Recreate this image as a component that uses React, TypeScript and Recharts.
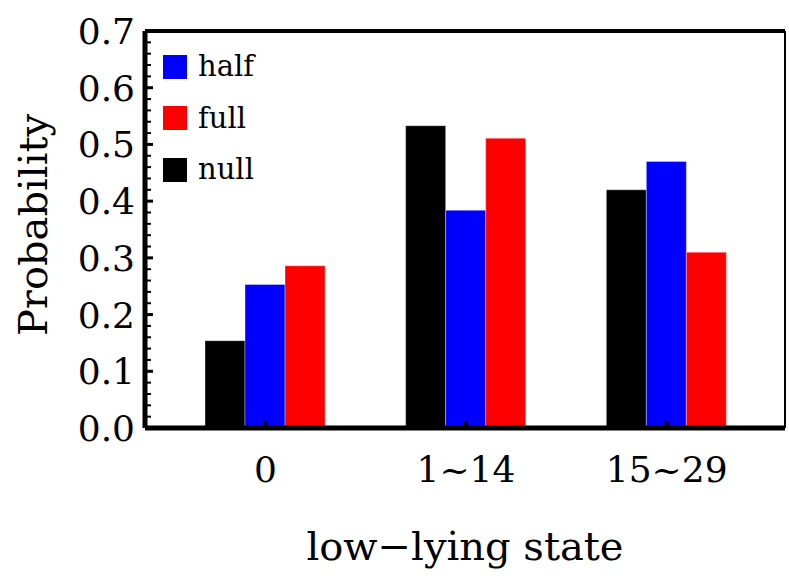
import { BarChart, Bar, XAxis, YAxis, ReferenceLine } from 'recharts';

const STATES = ['0', '1~14', '15~29'];
const NULL_VALUES = [0.154, 0.533, 0.42];
const HALF_VALUES = [0.253, 0.384, 0.47];
const FULL_VALUES = [0.286, 0.511, 0.31];

const Y_TICKS = [
  0, 0.02, 0.04, 0.06, 0.08, 0.1, 0.12, 0.14, 0.16, 0.18, 0.2, 0.22, 0.24, 0.26, 0.28, 0.3, 0.32,
  0.34, 0.36, 0.38, 0.4, 0.42, 0.44, 0.46, 0.48, 0.5, 0.52, 0.54, 0.56, 0.58, 0.6, 0.62, 0.64,
  0.66, 0.68, 0.7,
];

const LEGEND_ITEMS = [
  { name: 'half', color: '#0000ff' },
  { name: 'full', color: '#ff0000' },
  { name: 'null', color: '#000000' },
];

const data = STATES.map((state, i) => ({
  state,
  null: NULL_VALUES[i],
  half: HALF_VALUES[i],
  full: FULL_VALUES[i],
}));

const FONT = '"DejaVu Serif", serif';
const TICK_GAP = 10;

const isMajor = (v: number) => Math.abs(v * 10 - Math.round(v * 10)) < 1e-6;

function YTick({ x, y, payload }: any) {
  const major = isMajor(payload.value);
  const ax = x + TICK_GAP;
  return (
    <g>
      <line x1={ax} x2={ax + (major ? 8 : 6)} y1={y} y2={y} stroke="#000" strokeWidth={major ? 3 : 2} />
      {major && (
        <text x={x} y={y} dy="0.36em" textAnchor="end" fontSize={36} fontFamily={FONT} fill="#000">
          {payload.value.toFixed(1)}
        </text>
      )}
    </g>
  );
}

function XTick({ x, y, payload }: any) {
  return (
    <g>
      <line x1={x} x2={x} y1={y} y2={y - 7} stroke="#000" strokeWidth={4} />
      <text x={x} y={y + 54} textAnchor="middle" fontSize={36} fontFamily={FONT} fill="#000">
        {payload.value}
      </text>
    </g>
  );
}

function LegendBox() {
  return (
    <div style={{ position: 'absolute', left: 163, top: 41, fontFamily: FONT }}>
      {LEGEND_ITEMS.map((item) => (
        <div key={item.name} style={{ display: 'flex', alignItems: 'center', height: 51.5 }}>
          <span style={{ width: 24, height: 24, background: item.color, display: 'inline-block' }} />
          <span style={{ fontSize: 29, marginLeft: 11, lineHeight: 1 }}>{item.name}</span>
        </div>
      ))}
    </div>
  );
}

export default function App() {
  return (
    <div style={{ position: 'absolute', left: 0, top: 0, width: 789, height: 576, background: '#fff' }}>
      <BarChart
        width={789}
        height={576}
        data={data}
        margin={{ top: 31, right: 3, left: 0, bottom: 0 }}
        barSize={40}
        barGap={0}
      >
        <ReferenceLine y={0.7} stroke="#000" strokeWidth={4} />
        <Bar dataKey="null" fill="#000000" stroke="#ffffff" strokeOpacity={0.35} isAnimationActive={false} />
        <Bar dataKey="half" fill="#0000ff" stroke="#ffffff" strokeOpacity={0.35} isAnimationActive={false} />
        <Bar dataKey="full" fill="#ff0000" stroke="#ffffff" strokeOpacity={0.35} isAnimationActive={false} />
        <XAxis
          dataKey="state"
          height={148}
          padding={{ left: 20, right: 18 }}
          axisLine={{ stroke: '#000', strokeWidth: 5 }}
          tickLine={false}
          tickSize={0}
          tickMargin={0}
          interval={0}
          tick={<XTick />}
          label={{
            value: 'low\u2212lying state',
            position: 'insideBottom',
            offset: 16,
            fontSize: 40,
            fontFamily: FONT,
            fill: '#000',
          }}
        />
        <YAxis
          width={145}
          domain={[0, 0.7]}
          ticks={Y_TICKS}
          interval={0}
          axisLine={{ stroke: '#000', strokeWidth: 5 }}
          tickLine={false}
          tickSize={0}
          tickMargin={TICK_GAP}
          tick={<YTick />}
          label={{
            content: () => (
              <text
                x={47}
                y={225}
                transform="rotate(-90, 47, 225)"
                textAnchor="middle"
                fontSize={40}
                fontFamily={FONT}
                fill="#000"
              >
                Probability
              </text>
            ),
          }}
        />
        <YAxis
          yAxisId="frame"
          orientation="right"
          width={1}
          domain={[0, 0.7]}
          tick={false}
          tickLine={false}
          axisLine={{ stroke: '#000', strokeWidth: 2 }}
        />
      </BarChart>
      <LegendBox />
    </div>
  );
}
